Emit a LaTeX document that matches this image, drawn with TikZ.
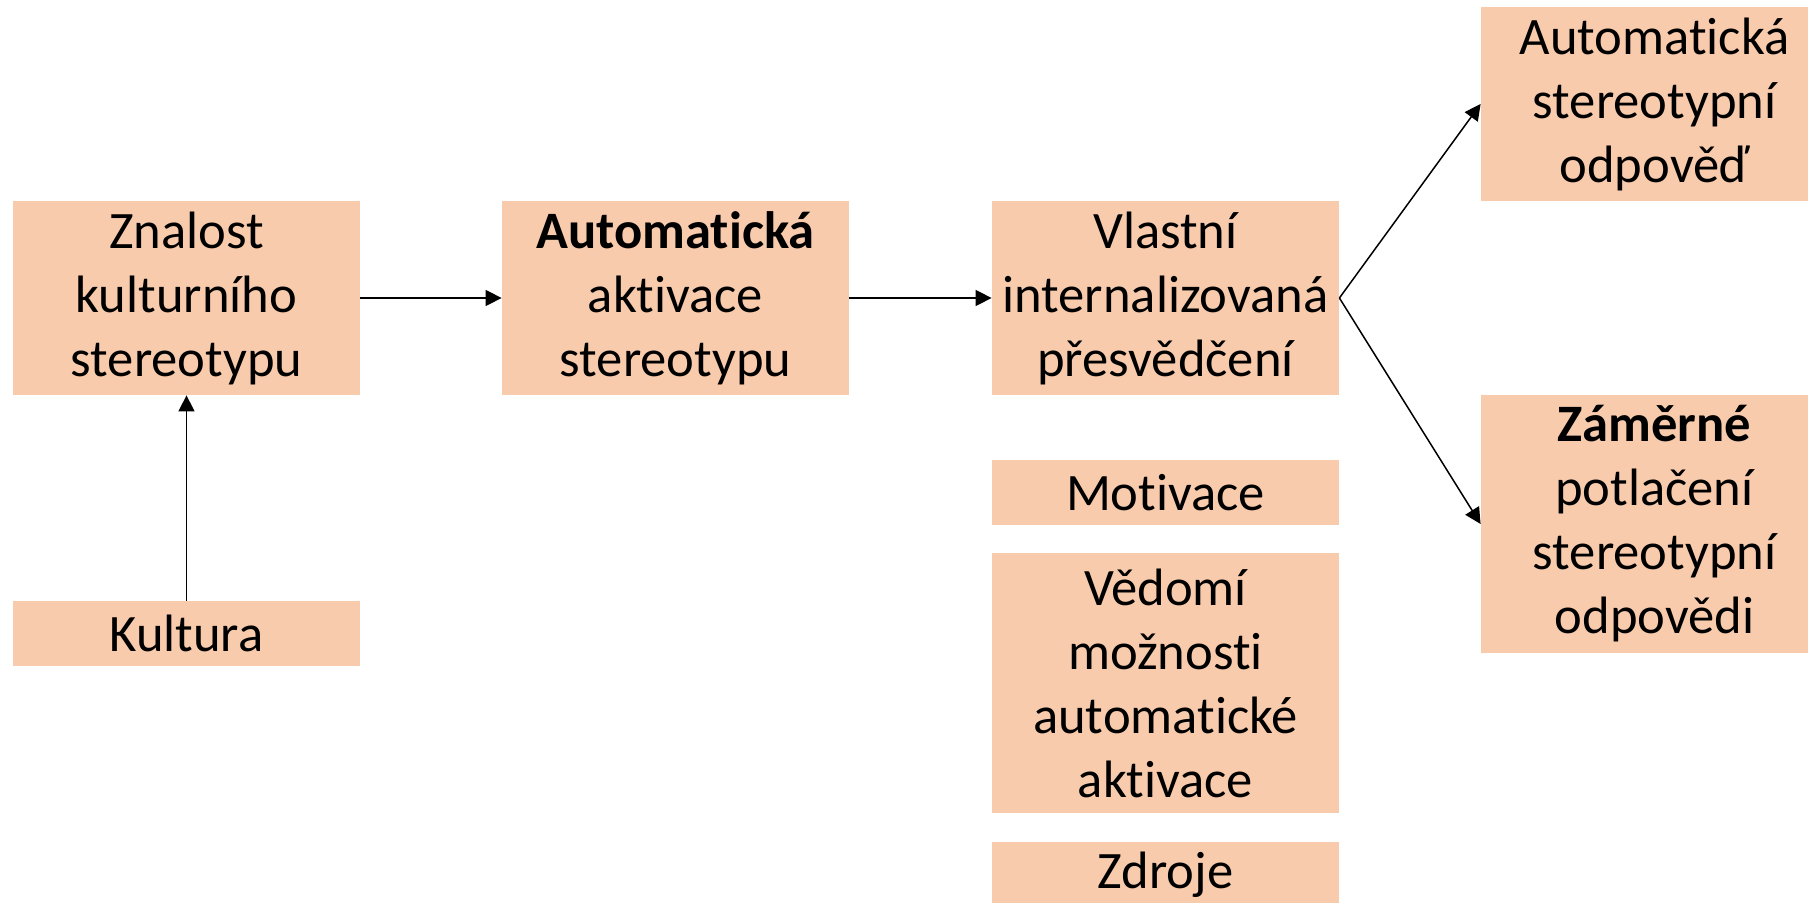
\documentclass[tikz,border=0pt]{standalone}
\usepackage{fontspec}
\setmainfont[RawFeature={-liga;-clig;-calt;-dlig;-hlig}]{Carlito}
\usetikzlibrary{arrows.meta}
\definecolor{peach}{HTML}{F8CBAD}
\tikzset{
  box/.style={fill=peach, draw=none, inner sep=0pt, align=center,
    minimum width=347*0.5pt, text width=340*0.5pt,
    font=\fontsize{26.3}{32}\selectfont},
  conn/.style={draw=black, line width=0.75pt, -{Triangle[length=8pt,width=8pt]}}
}
\begin{document}
\begin{tikzpicture}[x=0.5pt,y=-0.5pt]
\useasboundingbox (0,0) rectangle (1808,903);
\clip (0,0) rectangle (1808,903);
\node[box, minimum height=194*0.5pt] (znalost) at (186.5,298) {Znalost\\kulturního\\stereotypu};
\node[box, minimum height=65*0.5pt] (kultura) at (186.5,633.5) {Kultura};
\node[box, minimum height=194*0.5pt] (aktivace) at (675.5,298) {\textbf{Automatická}\\aktivace\\stereotypu};
\node[box, minimum height=194*0.5pt] (vlastni) at (1165.5,298) {Vlastní\\internalizovaná\\přesvědčení};
\node[box, minimum height=65*0.5pt] (motivace) at (1165.5,492.5) {Motivace};
\node[box, minimum height=260*0.5pt] (vedomi) at (1165.5,683) {Vědomí\\možnosti\\automatické\\aktivace};
\node[box, minimum height=65*0.5pt] (zdroje) at (1165.5,874.5) {Zdroje};
\node[box, minimum height=194*0.5pt] (odpoved) at (1654.5,104) {Automatická\\stereotypní\\odpověď};
\node[box, minimum height=258*0.5pt] (potlaceni) at (1654.5,524) {\textbf{Záměrné}\\potlačení\\stereotypní\\odpovědi};
\draw[conn] (kultura.north) -- (znalost.south);
\draw[conn] (znalost.east) -- (aktivace.west);
\draw[conn] (aktivace.east) -- (vlastni.west);
\draw[conn] (vlastni.east) -- (odpoved.west);
\draw[conn] (vlastni.east) -- (potlaceni.west);
\end{tikzpicture}
\end{document}
